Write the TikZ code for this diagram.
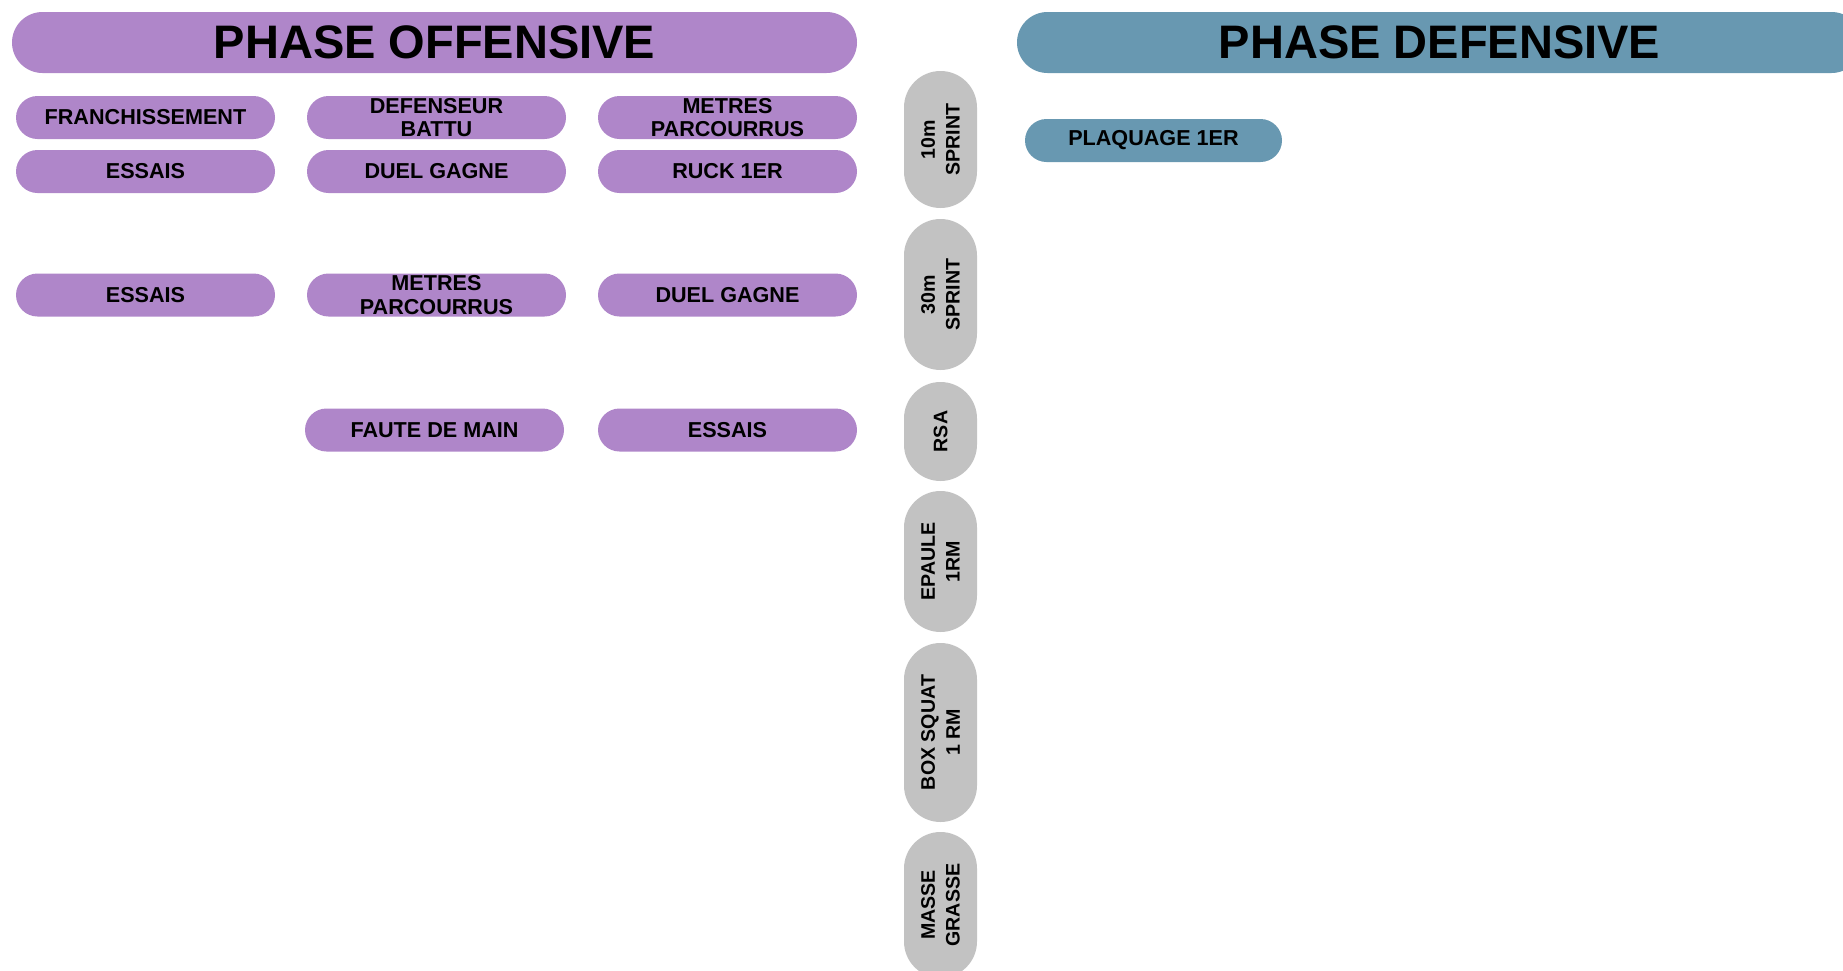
\documentclass[tikz,border=0pt]{standalone}
\usepackage{fontspec}
\setmainfont{Liberation Sans}
\usepackage{xcolor}
\usepackage{tikz}
\usetikzlibrary{shapes.misc}

\definecolor{violet}{HTML}{AF86C9}
\definecolor{bleu}{HTML}{6898B1}
\definecolor{gris}{HTML}{C2C2C2}

\begin{document}
\begin{tikzpicture}[x=0.5pt,y=-0.5pt,
    titre/.style={shape=rounded rectangle, inner sep=0pt, minimum width=422.5pt, minimum height=30.5pt, font=\fontsize{23.5}{24}\selectfont\bfseries},
    pill/.style={shape=rounded rectangle, fill=violet, inner sep=0pt, minimum width=129.5pt, minimum height=21.5pt, align=center, font=\fontsize{10.8}{11.6}\selectfont\bfseries},
    test/.style={shape=rounded rectangle, fill=gris, inner sep=0pt, rotate=90, minimum height=36.5pt, align=center, font=\fontsize{9.8}{12.4}\selectfont\bfseries}]
    \useasboundingbox (0,0) rectangle (1843,970);

    \node[titre, fill=violet] (offensive) at (434.5,42.5) {PHASE OFFENSIVE};
    \node[titre, fill=bleu] (defensive) at (1439.5,42.5) {PHASE DEFENSIVE};

    \node[pill] (franch) at (145.5,117.5) {FRANCHISSEMENT};
    \node[pill] (defbattu) at (436.5,117.5) {DEFENSEUR\\BATTU};
    \node[pill] (metresa) at (727.5,117.5) {METRES\\PARCOURRUS};
    \node[pill] (essaisa) at (145.5,171.5) {ESSAIS};
    \node[pill] (duela) at (436.5,171.5) {DUEL GAGNE};
    \node[pill] (ruck) at (727.5,171.5) {RUCK 1ER};
    \node[pill] (essaisb) at (145.5,295) {ESSAIS};
    \node[pill] (metresb) at (436.5,295) {METRES\\PARCOURRUS};
    \node[pill] (duelb) at (727.5,295) {DUEL GAGNE};
    \node[pill] (faute) at (434.5,430) {FAUTE DE MAIN};
    \node[pill] (essaisc) at (727.5,430) {ESSAIS};

    \node[test, minimum width=68.5pt] (sprintdix) at (940.5,139.5) {10m\\SPRINT};
    \node[test, minimum width=75.5pt] (sprinttrente) at (940.5,294.5) {30m\\SPRINT};
    \node[test, minimum width=49.5pt] (rsa) at (940.5,431.5) {RSA};
    \node[test, minimum width=70.5pt] (epaule) at (940.5,561.5) {EPAULE\\1RM};
    \node[test, minimum width=89.5pt] (squat) at (940.5,732.5) {BOX SQUAT\\1 RM};
    \node[test, minimum width=73pt] (masse) at (940.5,905) {MASSE\\GRASSE};

    \node[pill, fill=bleu, minimum width=128.5pt] (plaquage) at (1153.5,140.5) {PLAQUAGE 1ER};
  \end{tikzpicture}
\end{document}
